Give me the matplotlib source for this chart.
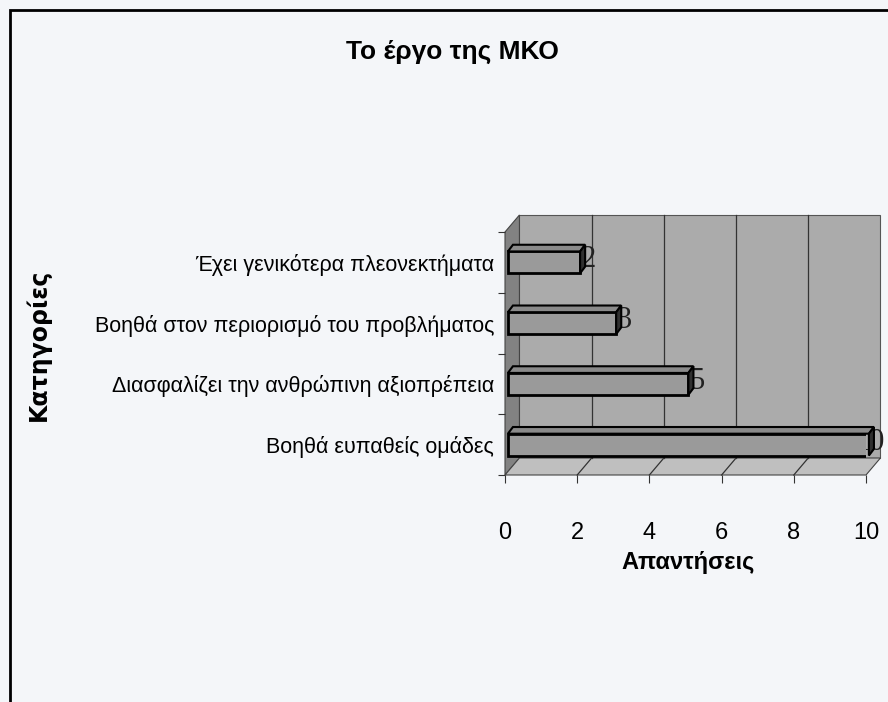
import matplotlib
matplotlib.use("Agg")
import matplotlib.pyplot as plt
from matplotlib.patches import Polygon, Rectangle

plt.rcParams['font.family'] = ['Liberation Sans', 'DejaVu Sans']

# data (bottom to top)
categories = ["Βοηθά ευπαθείς ομάδες",
              "Διασφαλίζει την ανθρώπινη αξιοπρέπεια",
              "Βοηθά στον περιορισμό του προβλήματος",
              "Έχει γενικότερα πλεονεκτήματα"]
values = [10, 5, 3, 2]
xticks = [0, 2, 4, 6, 8, 10]

title = "Το έργο της ΜΚΟ"
xlabel = "Απαντήσεις"
ylabel = "Κατηγορίες"

fig = plt.figure(figsize=(8.88, 7.02), dpi=100)
fig.patch.set_facecolor("#f4f6f9")

# outer chart frame
fig.patches.append(Rectangle((10 / 888, -0.05), 1.1, 0.05 + 692 / 702, transform=fig.transFigure,
                             fill=False, edgecolor="black", linewidth=2.0))

ax = fig.add_axes([505 / 888, 227 / 702, 361 / 888, 243 / 702])
ax.set_xlim(0, 10)
ax.set_ylim(-0.5, 3.5)
ax.patch.set_alpha(0)
for s in ax.spines.values():
    s.set_visible(False)

# pseudo 3D box
dx, dy = 0.4, 0.28
y0, y1 = -0.5, 3.5
xmax = 10 + dx
ax.add_patch(Polygon([(dx, y0 + dy), (xmax, y0 + dy), (xmax, y1 + dy), (dx, y1 + dy)],
                     closed=True, facecolor="#ababab", edgecolor="#555555", lw=0.8,
                     clip_on=False, zorder=0))
ax.add_patch(Polygon([(0, y0), (dx, y0 + dy), (dx, y1 + dy), (0, y1)],
                     closed=True, facecolor="#828282", edgecolor="#444444", lw=0.8,
                     clip_on=False, zorder=0.5))
ax.add_patch(Polygon([(0, y0), (10, y0), (xmax, y0 + dy), (dx, y0 + dy)],
                     closed=True, facecolor="#bfbfbf", edgecolor="#444444", lw=0.8,
                     clip_on=False, zorder=0.5))
for x in xticks[1:-1]:
    ax.plot([x + dx, x + dx], [y0 + dy, y1 + dy], color="#333333", lw=0.9, zorder=0.6, clip_on=False)
    ax.plot([x, x + dx], [y0, y0 + dy], color="#333333", lw=0.9, zorder=0.6, clip_on=False)

# bars with top and end faces
h = 0.36
bdx, bdy = 0.14, 0.11
ypos = list(range(len(categories)))
ax.barh(ypos, values, height=h, left=0.08, color="#9a9a9a", edgecolor="black", linewidth=2,
        zorder=3)
for y, v in zip(ypos, values):
    xe = v + 0.08
    ax.add_patch(Polygon([(0.08, y + h / 2), (xe, y + h / 2), (xe + bdx, y + h / 2 + bdy),
                          (0.08 + bdx, y + h / 2 + bdy)], closed=True, facecolor="#8a8a8a",
                         edgecolor="black", lw=1.5, zorder=3, clip_on=False))
    ax.add_patch(Polygon([(xe, y - h / 2), (xe + bdx, y - h / 2 + bdy), (xe + bdx, y + h / 2 + bdy),
                          (xe, y + h / 2)], closed=True, facecolor="#303030",
                         edgecolor="black", lw=1.5, zorder=3, clip_on=False))
    # value label, partly hidden behind the bar end as in the original
    ax.text(xe + bdx + 0.3, y + 0.04, str(v), fontsize=22, family="Liberation Serif",
            ha="right", va="center", color="#222222", zorder=2.5, clip_on=False)

ax.set_xticks(xticks)
ax.set_xticklabels([str(t) for t in xticks], fontsize=17)
ax.set_yticks([-0.5, 0.5, 1.5, 2.5, 3.5])
ax.set_yticklabels([])
ax.set_yticks(ypos, minor=True)
ax.set_yticklabels(categories, minor=True, fontsize=15.5)
ax.tick_params(axis="y", which="minor", length=0, pad=8)
ax.tick_params(axis="y", which="major", length=5, color="#333333")
ax.tick_params(axis="x", length=6, pad=28, color="#333333")

fig.text(452 / 888, 1 - 52 / 702, title, fontsize=19, fontweight="bold", ha="center", va="center")
fig.text(688 / 888, 1 - 563 / 702, xlabel, fontsize=17, fontweight="bold", ha="center", va="center")
fig.text(38 / 888, 1 - 345 / 702, ylabel, fontsize=17, fontweight="bold", ha="center", va="center",
         rotation=90, family="DejaVu Sans")

fig.savefig("out.png", dpi=100, facecolor=fig.get_facecolor())
